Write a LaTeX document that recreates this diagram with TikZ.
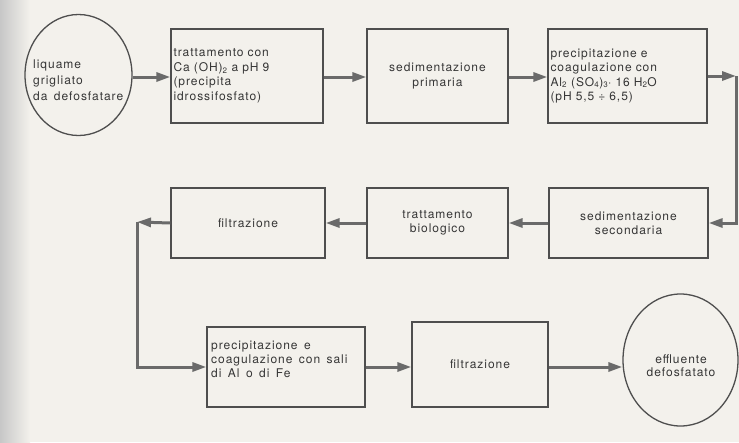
\documentclass[tikz,border=0pt]{standalone}
\usepackage{fontspec}
\setmainfont{TeX Gyre Heros}[LetterSpace=8, WordSpace=1.5]
\usetikzlibrary{arrows.meta,shapes.geometric}
\definecolor{paper}{HTML}{F3F1EC}
\definecolor{ink}{HTML}{363636}
\definecolor{edge}{HTML}{4E4E4E}
\definecolor{arrowc}{HTML}{6A6A6A}
\tikzset{
  boxst/.style={draw=edge, line width=1.3pt, rectangle, inner sep=2pt, text=ink,
    font=\fontsize{12}{14.5}\selectfont},
  ellst/.style={draw=edge, line width=1.3pt, ellipse, inner sep=0pt},
  txtst/.style={inner sep=0pt, text=ink},
  arr/.style={draw=arrowc, line width=3pt, -{Triangle[length=14pt,width=9pt]}}
}
\begin{document}
\begin{tikzpicture}[x=1pt,y=-1pt]
\useasboundingbox (0,0) rectangle (739,442);
\fill[paper] (0,0) rectangle (739,442);
\fill[left color=black!22, right color=paper] (0,0) rectangle (30,442);

% top row
\node[ellst, minimum width=107pt, minimum height=121pt] (c1) at (78.5,75) {};
\node[txtst, anchor=north west, align=left, font=\fontsize{12}{16}\selectfont] (c1t) at (33,59.5) {liquame\\grigliato\\da defosfatare};
\node[boxst, minimum width=152pt, minimum height=94pt, text width=147pt, align=left] (b1) at (247,76) {trattamento con\\Ca (OH)\textsubscript{2} a pH 9\\(precipita\\idrossifosfato)};
\node[boxst, minimum width=141pt, minimum height=94pt, align=center] (b2) at (437.5,76) {sedimentazione\\primaria};
\node[boxst, minimum width=159pt, minimum height=94pt, text width=154pt, align=left] (b3) at (627.5,76) {precipitazione e\\coagulazione con\\Al\textsubscript{2} (SO\textsubscript{4})\textsubscript{3}· 16 H\textsubscript{2}O\\(pH 5,5 ÷ 6,5)};

% middle row
\node[boxst, minimum width=159pt, minimum height=70pt, align=center] (m3) at (628.5,223) {sedimentazione\\secondaria};
\node[boxst, minimum width=141pt, minimum height=70pt, align=center] (m2) at (437.5,223) {trattamento\\biologico};
\node[boxst, minimum width=154pt, minimum height=70pt, align=center] (m1) at (248,223) {filtrazione};

% bottom row
\node[boxst, minimum width=158pt, minimum height=80pt] (l1) at (286,367) {};
\node[txtst, anchor=north west, align=left, font=\fontsize{12}{14}\selectfont] (l1t) at (211,341.3) {precipitazione e\\coagulazione con sali\\di Al o di Fe};
\node[boxst, minimum width=136pt, minimum height=85pt, align=center] (l2) at (480,364.5) {filtrazione};
\node[ellst, minimum width=115pt, minimum height=132pt] (c2) at (680.5,360) {};
\node[txtst, anchor=north, align=center, font=\fontsize{12}{13.5}\selectfont] (c2t) at (681,354.3) {effluente\\defosfatato};

\coordinate (cR) at (736,76);
\coordinate (cL) at (137,222);

\draw[arr] (c1.east |- 0,77) -- (b1.west |- 0,77);
\draw[arr] (b1.east |- 0,77) -- (b2.west |- 0,77);
\draw[arr] (b2.east |- 0,77) -- (b3.west |- 0,77);
\draw[arr] (b3.east) -- (cR);
\draw[arr] (cR) |- (m3.east);
\draw[arr] (m3.west) -- (m2.east);
\draw[arr] (m2.west) -- (m1.east);
\draw[arr] (m1.west) -- (cL);
\draw[arr] (cL) |- (l1.west);
\draw[arr] (l1.east) -- (l2.west |- l1.east);
\draw[arr] (l2.east |- l1.east) -- (c2.west |- l1.east);
\end{tikzpicture}
\end{document}
